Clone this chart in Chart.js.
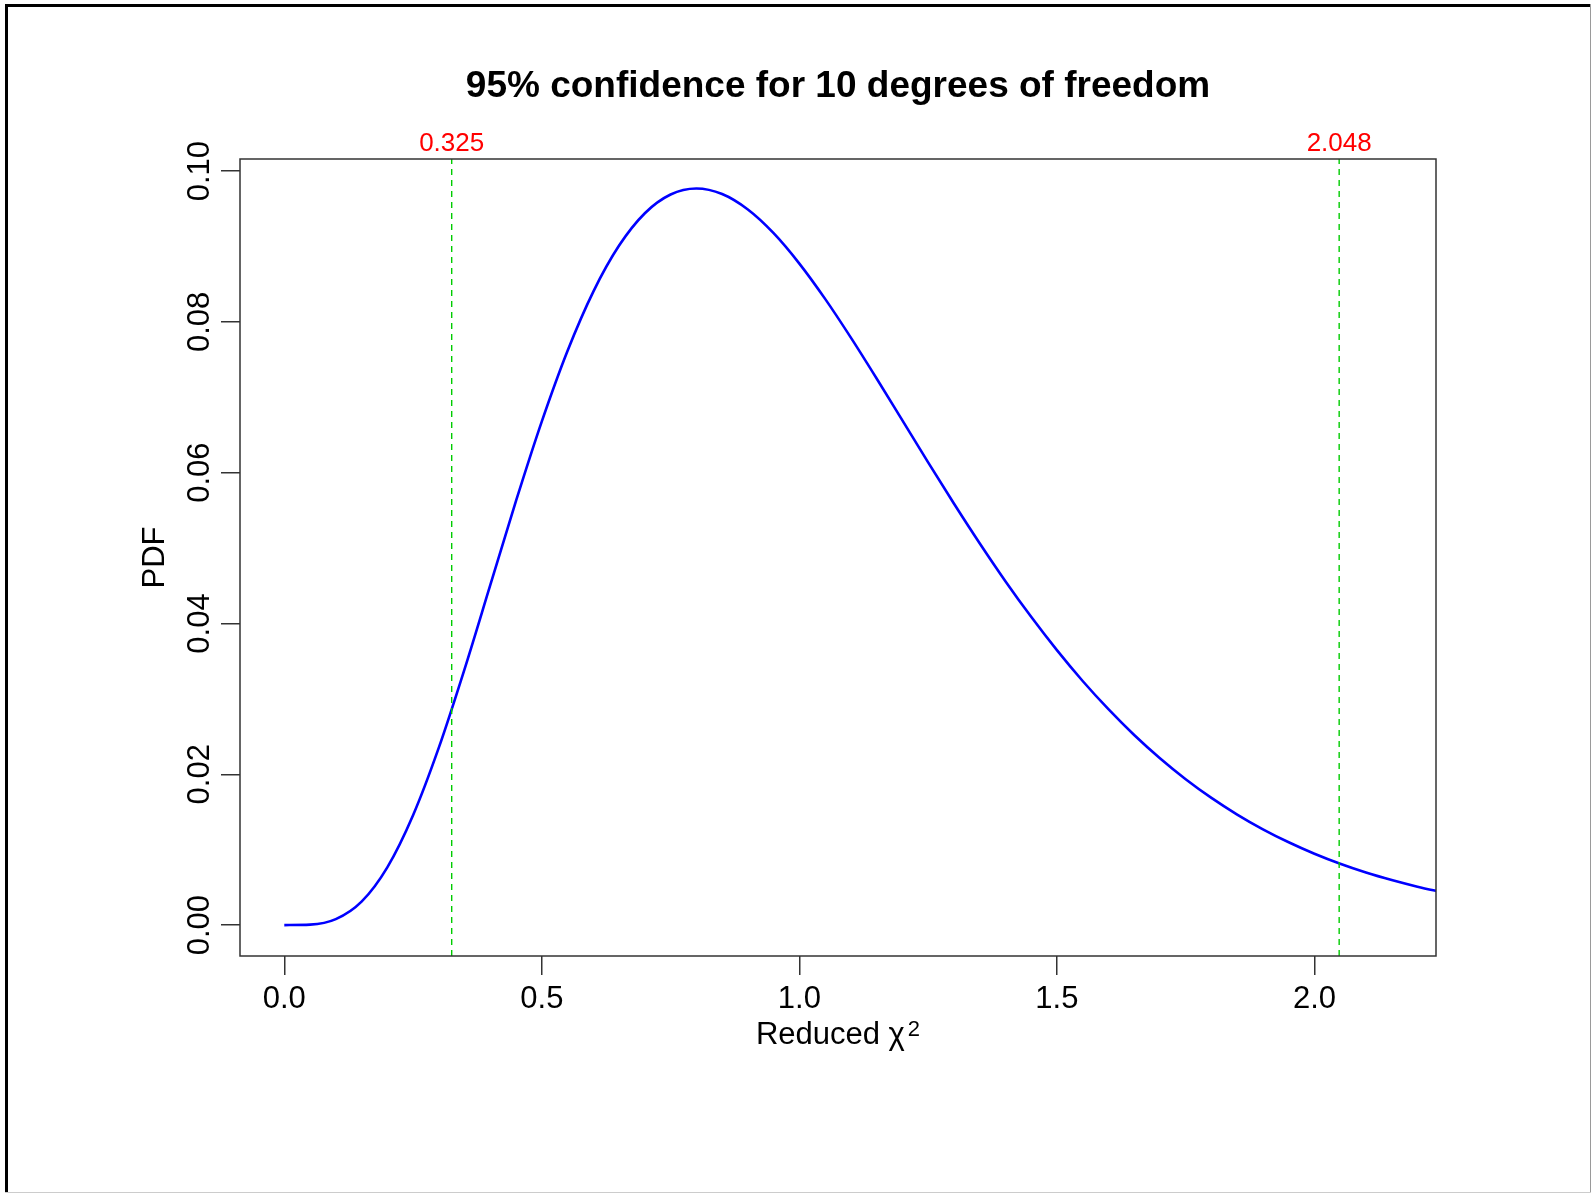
<!DOCTYPE html>
<html>
<head>
<meta charset="utf-8">
<title>95% confidence for 10 degrees of freedom</title>
<script src="https://cdn.jsdelivr.net/npm/chart.js@4.4.1/dist/chart.umd.min.js"></script>
<style>
  html, body { margin: 0; padding: 0; background: #ffffff; }
  canvas { display: block; }
</style>
</head>
<body>
<canvas id="chart" width="1592" height="1193" style="width:1592px;height:1193px"></canvas>
<script>
// Reduced chi-square values (x) and the probability density at each (y), 10 degrees of freedom
const chiX = [
  0.00, 0.05, 0.10, 0.15, 0.20, 0.25, 0.30, 0.35, 0.40, 0.45,
  0.50, 0.55, 0.60, 0.65, 0.70, 0.75, 0.80, 0.85, 0.90, 0.95,
  1.00, 1.05, 1.10, 1.15, 1.20, 1.25, 1.30, 1.35, 1.40, 1.45,
  1.50, 1.55, 1.60, 1.65, 1.70, 1.75, 1.80, 1.85, 1.90, 1.95,
  2.00, 2.05, 2.10, 2.15, 2.20, 2.25
];
const pdfY = [
  0.00000, 0.00006, 0.00079, 0.00311, 0.00766, 0.01457, 0.02353, 0.03395, 0.04511, 0.05628,
  0.06680, 0.07617, 0.08402, 0.09012, 0.09441, 0.09689, 0.09768, 0.09695, 0.09490, 0.09176,
  0.08773, 0.08305, 0.07791, 0.07249, 0.06693, 0.06137, 0.05591, 0.05064, 0.04561, 0.04088,
  0.03646, 0.03237, 0.02863, 0.02521, 0.02213, 0.01935, 0.01687, 0.01466, 0.01270, 0.01098,
  0.00946, 0.00813, 0.00697, 0.00597, 0.00509, 0.00434
];

// Two-sided 95% bounds
const criticalValues = [0.325, 2.048];

// Axis ticks and limits
const xTicks = [0, 0.5, 1.0, 1.5, 2.0];
const yTicks = [0.00, 0.02, 0.04, 0.06, 0.08, 0.10];
const xLimits = [-0.086, 2.236];
const yLimits = [-0.0041, 0.1016];

const FONT = "'Liberation Sans', Arial, Helvetica, sans-serif";

const curvePoints = chiX.map((x, i) => ({ x: x, y: pdfY[i] }));
const boundLines = criticalValues.map(v => ({
  data: [{ x: v, y: yLimits[0] }, { x: v, y: yLimits[1] }],
  borderColor: '#00cc00',
  borderWidth: 1.4,
  borderDash: [6, 5],
  pointRadius: 0,
  fill: false,
  tension: 0,
  clip: 0,
  order: 1
}));

// Page background and outer frame
const framePlugin = {
  id: 'frame',
  beforeDraw(chart) {
    const ctx = chart.ctx;
    const w = chart.width, h = chart.height;
    ctx.save();
    ctx.fillStyle = '#ffffff';
    ctx.fillRect(0, 0, w, h);
    ctx.fillStyle = '#000000';
    ctx.fillRect(5, 4, 3, h - 4);
    ctx.fillRect(5, 4, w - 6, 3);
    ctx.fillStyle = '#9a9a9a';
    ctx.fillRect(w - 2, 4, 1, h - 4);
    ctx.fillStyle = '#cccccc';
    ctx.fillRect(5, h - 1, w - 6, 1);
    ctx.restore();
  }
};

// Box around the plotting region and the x-axis label with a superscript
const boxPlugin = {
  id: 'plotBox',
  afterDraw(chart) {
    const ctx = chart.ctx;
    const a = chart.chartArea;
    ctx.save();
    ctx.strokeStyle = '#333333';
    ctx.lineWidth = 1.5;
    ctx.strokeRect(a.left, a.top, a.right - a.left, a.bottom - a.top);

    const main = 'Reduced \u03C7';
    const sup = '2';
    ctx.fillStyle = '#000000';
    ctx.textBaseline = 'alphabetic';
    ctx.textAlign = 'left';
    ctx.font = '31px ' + FONT;
    const wMain = ctx.measureText(main).width;
    ctx.font = '22px ' + FONT;
    const wSup = ctx.measureText(sup).width;
    const cx = (a.left + a.right) / 2;
    const x0 = cx - (wMain + 3 + wSup) / 2;
    const base = a.bottom + 88;
    ctx.font = '31px ' + FONT;
    ctx.fillText(main, x0, base);
    ctx.font = '22px ' + FONT;
    ctx.fillText(sup, x0 + wMain + 3, base - 8);
    ctx.restore();
  }
};

const tickGrid = {
  display: true,
  drawOnChartArea: false,
  drawTicks: true,
  tickLength: 19,
  color: '#333333',
  lineWidth: 1.5
};

new Chart(document.getElementById('chart'), {
  type: 'line',
  data: {
    datasets: [
      {
        data: curvePoints,
        borderColor: '#0000ff',
        borderWidth: 2.6,
        pointRadius: 0,
        fill: false,
        cubicInterpolationMode: 'monotone',
        clip: 0,
        order: 2
      },
      ...boundLines
    ]
  },
  options: {
    responsive: false,
    devicePixelRatio: 1,
    animation: false,
    events: [],
    layout: { padding: { left: 0, right: 156, top: 0, bottom: 137 } },
    plugins: {
      legend: { display: false },
      tooltip: { enabled: false },
      title: {
        display: true,
        text: '95% confidence for 10 degrees of freedom',
        color: '#000000',
        fullSize: false,
        font: { family: FONT, size: 37, weight: 'bold', lineHeight: 1.2 },
        padding: { top: 64.3, bottom: 0 }
      }
    },
    scales: {
      x: {
        type: 'linear',
        position: 'bottom',
        min: xLimits[0],
        max: xLimits[1],
        afterBuildTicks: s => { s.ticks = xTicks.map(v => ({ value: v })); },
        afterFit: s => { s.height = 100; },
        grid: tickGrid,
        border: { display: false },
        ticks: {
          color: '#000000',
          font: { family: FONT, size: 31, lineHeight: 1.2 },
          padding: 6,
          maxRotation: 0,
          autoSkip: false,
          callback: v => Number(v).toFixed(1)
        }
      },
      x2: {
        type: 'linear',
        position: 'top',
        min: xLimits[0],
        max: xLimits[1],
        afterBuildTicks: s => { s.ticks = criticalValues.map(v => ({ value: v })); },
        afterFit: s => { s.height = 50.3; },
        grid: { display: false, drawTicks: false },
        border: { display: false },
        ticks: {
          color: '#ff0000',
          font: { family: FONT, size: 26, lineHeight: 1.2 },
          padding: 0,
          maxRotation: 0,
          autoSkip: false,
          callback: v => Number(v).toFixed(3)
        }
      },
      y: {
        type: 'linear',
        position: 'left',
        min: yLimits[0],
        max: yLimits[1],
        afterBuildTicks: s => { s.ticks = yTicks.map(v => ({ value: v })); },
        afterFit: s => { s.width = 240; },
        grid: tickGrid,
        border: { display: false },
        title: {
          display: true,
          text: 'PDF',
          color: '#000000',
          font: { family: FONT, size: 31, lineHeight: 1.2 },
          padding: { top: 137, bottom: 0 }
        },
        ticks: {
          color: '#000000',
          font: { family: FONT, size: 31, lineHeight: 1.2 },
          padding: -10,
          minRotation: 90,
          maxRotation: 90,
          crossAlign: 'center',
          autoSkip: false,
          callback: v => Number(v).toFixed(2)
        }
      }
    }
  },
  plugins: [framePlugin, boxPlugin]
});
</script>
</body>
</html>
